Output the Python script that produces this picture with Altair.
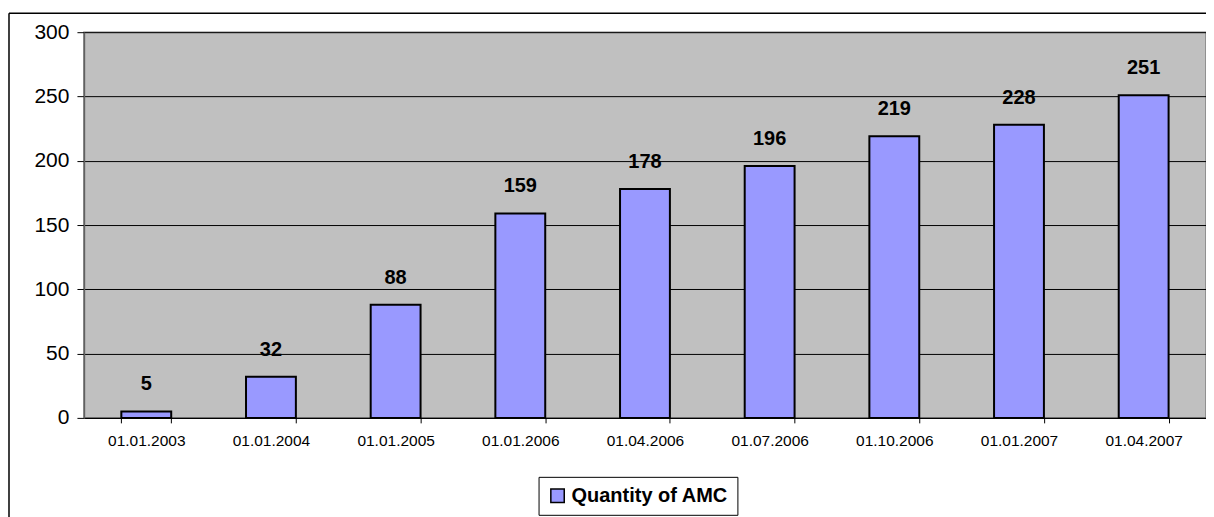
import altair as alt
import pandas as pd

dates = ["01.01.2003", "01.01.2004", "01.01.2005", "01.01.2006", "01.04.2006",
         "01.07.2006", "01.10.2006", "01.01.2007", "01.04.2007"]
values = [5, 32, 88, 159, 178, 196, 219, 228, 251]
series_name = "Quantity of AMC"

df = pd.DataFrame({"date": dates, "value": values, "series": [series_name] * len(dates)})

W, H = 1123, 386

x_enc = alt.X("date:N", sort=dates, title=None,
              scale=alt.Scale(paddingInner=0.6, paddingOuter=0.3),
              axis=alt.Axis(labelAngle=0, labelFontSize=15.5, labelFont="Liberation Sans",
                            labelColor="black", tickBand="extent", tickSize=5,
                            tickColor="black", domainColor="black", labelPadding=11,
                            grid=False))

bars = alt.Chart(df).mark_bar(stroke="black", strokeWidth=2).encode(
    x=x_enc,
    y=alt.Y("value:Q", title=None,
            scale=alt.Scale(domain=[0, 300], nice=False),
            axis=alt.Axis(values=[0, 50, 100, 150, 200, 250, 300], labelFontSize=21,
                          labelFont="Liberation Sans", labelColor="black",
                          tickSize=7, tickColor="black", labelPadding=8,
                          domainColor="#606060", domainWidth=1.5,
                          gridColor="black", gridWidth=1)),
    color=alt.Color("series:N", title=None,
                    scale=alt.Scale(range=["#9999FF"]),
                    legend=alt.Legend(orient="none", legendX=455, legendY=445,
                                      symbolType="square", symbolSize=180,
                                      symbolStrokeColor="black", symbolStrokeWidth=1.5,
                                      labelFontSize=20, labelFontWeight="bold",
                                      labelFont="Liberation Sans", labelColor="black",
                                      strokeColor="black", fillColor="white",
                                      padding=9, labelOffset=4, labelLimit=400)),
)

labels = alt.Chart(df).mark_text(dy=-17, baseline="bottom", fontSize=20, fontWeight="bold",
                                  font="Liberation Sans", color="black").encode(
    x=alt.X("date:N", sort=dates),
    y=alt.Y("value:Q"),
    text=alt.Text("value:Q"),
)

frame = pd.DataFrame({"k": [0]})
top_border = alt.Chart(frame).mark_rule(color="black", strokeWidth=1.5).encode(
    x=alt.value(-75), x2=alt.value(W + 100), y=alt.value(-19))
left_border = alt.Chart(frame).mark_rule(color="black", strokeWidth=1.5).encode(
    x=alt.value(-75), y=alt.value(-19), y2=alt.value(H + 200))

chart = alt.layer(bars, labels, top_border, left_border).properties(
    width=W, height=H,
    background="white",
    autosize=alt.AutoSizeParams(type="none"),
    padding={"left": 76, "top": 24, "right": 0, "bottom": 120},
).configure_view(
    fill="#C0C0C0", stroke="#808080", strokeWidth=1.5
)

chart.save("out.html", embed_options={"renderer": "svg", "actions": False})
